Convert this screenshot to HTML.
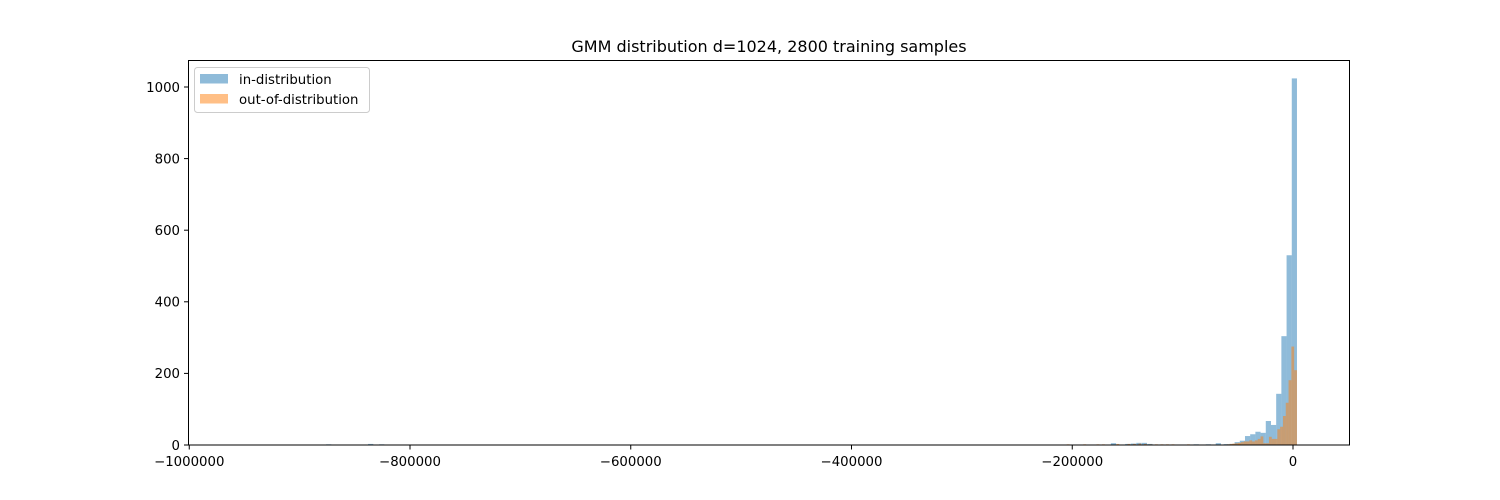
<!DOCTYPE html>
<html><head><meta charset="utf-8"><style>
html,body{margin:0;padding:0;background:#fff}
svg{display:block;font-family:"DejaVu Sans","Liberation Sans",sans-serif}
</style></head><body>
<svg id="chart" width="1500" height="500" viewBox="0 0 1500 500">
<rect width="1500" height="500" fill="#fff"/>
<text x="769" y="52" font-size="16" text-anchor="middle">GMM distribution d=1024, 2800 training samples</text>
<g id="bars"></g>
<rect x="188.5" y="60.5" width="1161" height="384.5" fill="none" stroke="#000" stroke-width="1"/>
<g id="xticks"></g>
<g id="yticks"></g>
<g>
<rect x="194.5" y="67.5" width="175" height="45" rx="3" fill="#fff" fill-opacity="0.8" stroke="#ccc"/>
<rect x="200" y="74" width="28" height="9.5" fill="#1f77b4" fill-opacity="0.5"/>
<text x="239" y="84" font-size="13.3">in-distribution</text>
<rect x="200" y="94" width="28" height="9.5" fill="#ff7f0e" fill-opacity="0.5"/>
<text x="239" y="104" font-size="13.3">out-of-distribution</text>
</g>
</svg>
<script>
const xTicks=[-1000000,-800000,-600000,-400000,-200000,0];
const xTickLabels=["\u22121000000","\u2212800000","\u2212600000","\u2212400000","\u2212200000","0"];
const yTicks=[0,200,400,600,800,1000];
const blueWidth=4710;
const blueBinStarts=[-876000,-846000,-838000,-828000,-165000,-152000,-147000,-142000,-137000,-132000,-90000,-79000,-70000,-63000,-55000,
 3600-4710*14,3600-4710*13,3600-4710*12,3600-4710*11,3600-4710*10,3600-4710*9,3600-4710*8,3600-4710*7,3600-4710*6,3600-4710*5,3600-4710*4,3600-4710*3,3600-4710*2,3600-4710*1];
const blueCounts=[2,1,3,2,5,3,4,6,6,3,2,2,5,2,2,
 2,3,8,12,25,30,37,34,67,56,143,304,530,1024];
const orangeWidth=2540;
const orangeBinStarts=[-205000,-198000,-190000,-178000,-173000,-160000,-150000,-145000,-140000,-135000,-130000,-125000,-120000,-115000,-110000,-96000,-83000,-80000,-55000,-50000];
const orangeCounts=[2,1,2,2,2,3,3,3,4,3,2,2,2,2,2,2,1,1,2,3];
const orangeTailCounts=[2,3,4,5,6,8,10,10,13,10,13,17,24,5,5,23,17,17,44,51,81,118,181,275,209];
const orangeTailEnd=3600;

const x0=1293, pxPer=220.75/200000;
const X=v=>x0+v*pxPer;
const Y=c=>445-c*0.358;
const NS="http://www.w3.org/2000/svg";
const bars=document.getElementById('bars');
function bar(start,w,c,color,name){
  const r=document.createElementNS(NS,'rect');
  r.setAttribute('x',X(start));r.setAttribute('width',Math.max(0.5,X(start+w)-X(start)));
  r.setAttribute('y',Y(c));r.setAttribute('height',445-Y(c));
  r.setAttribute('fill',color);r.setAttribute('fill-opacity','0.5');
  
  
  bars.appendChild(r);
}
blueBinStarts.forEach((s,i)=>bar(s,blueWidth,blueCounts[i],'#1f77b4','bar-in-distribution'));
orangeBinStarts.forEach((s,i)=>bar(s,orangeWidth,orangeCounts[i],'#ff7f0e','bar-out-of-distribution'));
const n=orangeTailCounts.length;
orangeTailCounts.forEach((c,i)=>bar(orangeTailEnd-orangeWidth*(n-i),orangeWidth,c,'#ff7f0e','bar-out-of-distribution'));

const xg=document.getElementById('xticks');
xTicks.forEach((v,i)=>{
  const l=document.createElementNS(NS,'line');
  l.setAttribute('x1',X(v));l.setAttribute('x2',X(v));l.setAttribute('y1',445);l.setAttribute('y2',449.5);l.setAttribute('stroke','#000');
  
  
  xg.appendChild(l);
  const t=document.createElementNS(NS,'text');
  t.setAttribute('x',X(v));t.setAttribute('y',466);t.setAttribute('font-size','13.3');t.setAttribute('text-anchor','middle');
  t.textContent=xTickLabels[i];
  
  
  xg.appendChild(t);
});
const yg=document.getElementById('yticks');
yTicks.forEach(v=>{
  const l=document.createElementNS(NS,'line');
  l.setAttribute('x1',184);l.setAttribute('x2',188.5);l.setAttribute('y1',Y(v));l.setAttribute('y2',Y(v));l.setAttribute('stroke','#000');
  
  
  yg.appendChild(l);
  const t=document.createElementNS(NS,'text');
  t.setAttribute('x',180);t.setAttribute('y',Y(v)+4.8);t.setAttribute('font-size','13.3');t.setAttribute('text-anchor','end');
  t.textContent=String(v);
  
  
  yg.appendChild(t);
});
</script>
</body></html>
